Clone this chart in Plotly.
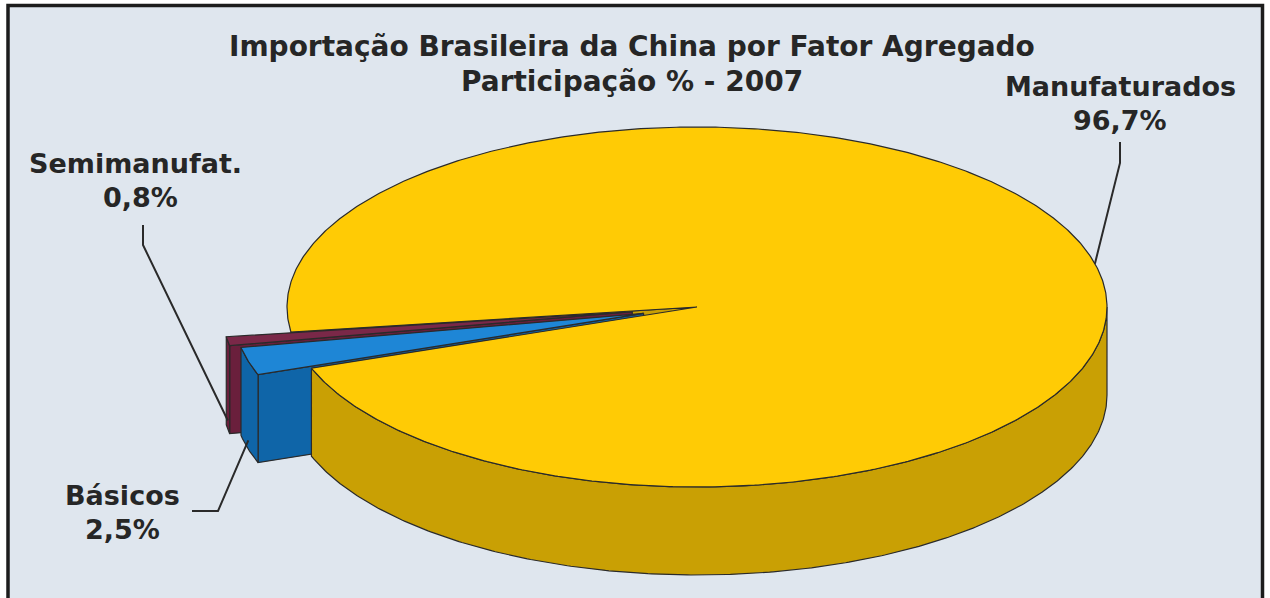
import numpy as np
import plotly.graph_objects as go

# Share of Brazilian imports from China by aggregate factor, 2007 (%)
categories = ["Semimanufat.", "Básicos", "Manufaturados"]
values = [0.8, 2.5, 96.7]
value_labels = ["0,8%", "2,5%", "96,7%"]

# Styling for each slice: top colour, side colour, explode fraction
top_colors = ["#7a2848", "#1e86d6", "#ffcb05"]
side_colors = ["#6a1f3c", "#0f65a8", "#c9a004"]
explode = [0.16, 0.135, 0.0]

W, H = 1270, 598
CX, CY = 697, 307          # centre of the top ellipse
RA, RB = 410, 180          # ellipse semi-axes
DEPTH = 88                 # thickness of the pie
START = 188.0              # starting angle of the first slice (degrees)
EDGE = "#2a2a2a"


def pt(t_deg, off=(0.0, 0.0), z=0.0):
    t = np.radians(t_deg)
    return CX + RA * np.cos(t) + off[0], CY - RB * np.sin(t) + off[1] + z


def arc(t0, t1, off, z=0.0, n=None):
    if n is None:
        n = max(4, int(abs(t1 - t0) * 2))
    ts = np.linspace(t0, t1, n)
    xs, ys = pt(ts, off, z)
    return list(xs), list(ys)


fig = go.Figure()


def poly(xs, ys, color, lw=1.2):
    fig.add_trace(go.Scatter(
        x=list(xs) + [xs[0]], y=list(ys) + [ys[0]], mode="lines",
        fill="toself", fillcolor=color,
        line=dict(color=EDGE, width=lw), hoverinfo="skip", showlegend=False))


# slice angular extents
spans = []
a0 = START
for v in values:
    a1 = a0 + v * 3.6
    spans.append((a0, a1))
    a0 = a1

offsets = []
for (t0, t1), e in zip(spans, explode):
    m = np.radians((t0 + t1) / 2)
    offsets.append((RA * e * np.cos(m), -RB * e * np.sin(m)))

# large slice's trailing radial face (seen through the gap)
yt0, yt1 = spans[2]
ex, ey = pt(yt1)
poly([CX, ex, ex, CX], [CY, ey, ey + DEPTH, CY + DEPTH], side_colors[2])

# the two exploded small slices, back one first
for i in (0, 1):
    t0, t1 = spans[i]
    off = offsets[i]
    c0 = (CX + off[0], CY + off[1])
    # radial face on the leading (front-facing) edge
    px, py = pt(t1, off)
    poly([c0[0], px, px, c0[0]], [c0[1], py, py + DEPTH, c0[1] + DEPTH], side_colors[i])
    # outer curved side
    tx, ty = arc(t0, t1, off)
    bx, by = arc(t1, t0, off, DEPTH)
    poly(tx + bx, ty + by, side_colors[i])
    # top face
    ax, ay = arc(t0, t1, off)
    poly([c0[0]] + ax, [c0[1]] + ay, top_colors[i])

# large slice: visible front wall then top face
tx, ty = arc(yt0, 360, (0, 0))
bx, by = arc(360, yt0, (0, 0), DEPTH)
poly(tx + bx, ty + by, side_colors[2])
ax, ay = arc(yt0, yt1, (0, 0), n=700)
poly([CX] + ax, [CY] + ay, top_colors[2])

# leader lines and labels
FONT = "DejaVu Sans"
TXT = "#262626"
label_pos = [(135, 163), (122, 495), (1120, 86)]
elbows = [((143, 225), (143, 245)), ((192, 511), (218, 511)), ((1120, 142), (1120, 163))]

for i, cat in enumerate(categories):
    t0, t1 = spans[i]
    mid = (t0 + t1) / 2
    z = DEPTH * 0.9 if i < 2 else 0.0
    axp, ayp = pt(mid, offsets[i], z)
    (x0, y0), (x1, y1) = elbows[i]
    fig.add_trace(go.Scatter(x=[x0, x1, float(axp)], y=[y0, y1, float(ayp)], mode="lines",
                             line=dict(color=EDGE, width=2), hoverinfo="skip",
                             showlegend=False))
    lx, ly = label_pos[i]
    fig.add_annotation(x=lx, y=ly, text=f"<b>{cat}</b>", showarrow=False,
                       font=dict(family=FONT, size=27, color=TXT),
                       xanchor="center", yanchor="middle")
    fig.add_annotation(x=lx + (5 if i == 0 else 0), y=ly + 34, text=f"<b>{value_labels[i]}</b>",
                       showarrow=False, font=dict(family=FONT, size=27, color=TXT),
                       xanchor="center", yanchor="middle")

fig.add_annotation(x=632, y=46, text="<b>Importação Brasileira da China por Fator Agregado</b>",
                   showarrow=False, font=dict(family=FONT, size=28, color=TXT),
                   xanchor="center", yanchor="middle")
fig.add_annotation(x=632, y=81, text="<b>Participação % - 2007</b>",
                   showarrow=False, font=dict(family=FONT, size=28, color=TXT),
                   xanchor="center", yanchor="middle")

# framed panel
fig.add_shape(type="rect", x0=8, y0=5.5, x1=1262.5, y1=640, layer="below",
              line=dict(color="#1c1c1c", width=3.5), fillcolor="#dfe6ee")

fig.update_layout(
    width=W, height=H, margin=dict(l=0, r=0, t=0, b=0),
    paper_bgcolor="white", plot_bgcolor="white",
    xaxis=dict(range=[0, W], visible=False, fixedrange=True),
    yaxis=dict(range=[H, 0], visible=False, fixedrange=True),
    showlegend=False,
)

fig.write_html("out.html")
